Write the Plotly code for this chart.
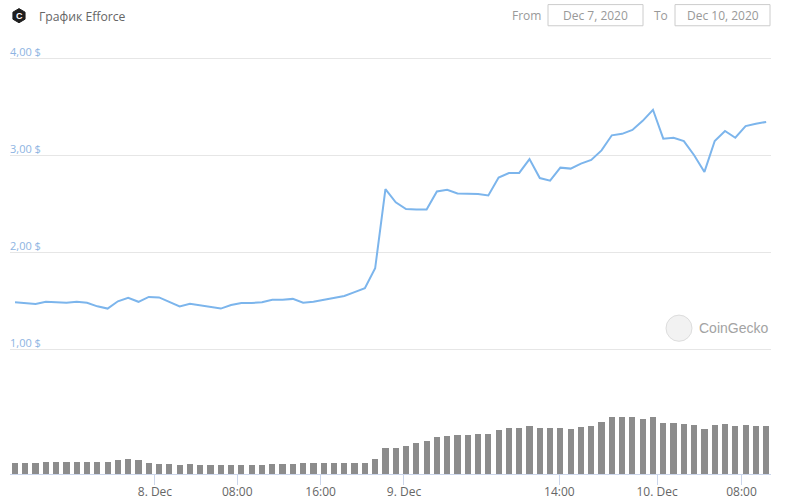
import math
import plotly.graph_objects as go

# ---- data ----
prices = [
    1.485, 1.475, 1.467, 1.49, 1.485, 1.48, 1.49, 1.48, 1.443, 1.42,
    1.495, 1.53, 1.49, 1.54, 1.535, 1.49, 1.443, 1.47, 1.454, 1.433,
    1.42, 1.457, 1.478, 1.478, 1.485, 1.51, 1.51, 1.52, 1.48, 1.49,
    1.51, 1.525, 1.55, 1.59, 1.63, 1.835, 2.65, 2.515, 2.445, 2.44,
    2.44, 2.627, 2.644, 2.606, 2.606, 2.60, 2.585, 2.77, 2.817, 2.817,
    2.96, 2.765, 2.737, 2.872, 2.862, 2.914, 2.952, 3.05, 3.205, 3.22,
    3.26, 3.354, 3.468, 3.17, 3.18, 3.146, 3.0, 2.828, 3.146, 3.25,
    3.18, 3.30, 3.325, 3.343,
]
volumes = [
    35, 35, 35, 38, 38, 38, 38, 38, 38, 38,
    42, 45, 42, 35, 32, 32, 29, 32, 29, 29,
    29, 29, 29, 29, 29, 32, 32, 32, 35, 35,
    35, 35, 35, 35, 35, 45, 78, 78, 84, 93,
    99, 111, 114, 117, 117, 120, 120, 132, 138, 138,
    144, 138, 138, 138, 135, 141, 144, 156, 171, 171,
    171, 165, 171, 153, 153, 150, 147, 135, 147, 150,
    144, 147, 144, 144,
]
x_tick_labels = ["8. Dec", "08:00", "16:00", "9. Dec", "14:00", "10. Dec", "08:00"]
x_tick_index = [13.6, 21.6, 29.7, 37.8, 52.9, 62.4, 70.6]
price_ticks = [1, 2, 3, 4]
price_tick_labels = ["1,00 $", "2,00 $", "3,00 $", "4,00 $"]
title_text = "График Efforce"
date_from = "Dec 7, 2020"
date_to = "Dec 10, 2020"

idx = list(range(len(prices)))

# vertical layout is designed in reference pixels and stretched to the figure height
SY = 510 / 499
W, H = 785, 510
L, R = 10, 14
T = round(40 * SY)
B = H - round(470 * SY)
PW, PH = W - L - R, H - T - B


def px(xp):
    return (xp - L) / PW


def py(yp):
    return (H - B - yp * SY) / PH


FONT = "Open Sans"
LINE_C = "#7cb5ec"

fig = go.Figure()
fig.add_trace(go.Bar(x=idx, y=volumes, yaxis="y2", marker=dict(color="#8c8c8c", line=dict(width=0)),
                     width=0.6, showlegend=False, hoverinfo="skip"))
fig.add_trace(go.Scatter(x=idx, y=prices, mode="lines", line=dict(color=LINE_C, width=2),
                         showlegend=False))

shapes = []
annotations = []

# logo hexagon
cx, cy, r = 19, 15, 7
pts = []
for k in range(6):
    a = math.radians(60 * k + 30)
    pts.append((px(cx + r * math.cos(a)), py(cy - r * math.sin(a))))
path = "M " + " L ".join(f"{a:.5f},{b:.5f}" for a, b in pts) + " Z"
shapes.append(dict(type="path", path=path, xref="paper", yref="paper",
                   fillcolor="#1e1e1e", line=dict(color="#1e1e1e", width=1)))
annotations.append(dict(x=px(cx), y=py(cy), xref="paper", yref="paper", text="<b>C</b>",
                        showarrow=False, font=dict(family="Arial", size=9, color="white"),
                        xanchor="center", yanchor="middle"))
annotations.append(dict(x=px(37), y=py(16), xref="paper", yref="paper", text=title_text,
                        showarrow=False, font=dict(family=FONT, size=12.2, color="#666666"),
                        xanchor="left", yanchor="middle"))

# date range boxes
annotations.append(dict(x=px(526), y=py(15), xref="paper", yref="paper", text="From",
                        showarrow=False, font=dict(family=FONT, size=12, color="#999999"),
                        xanchor="center", yanchor="middle"))
shapes.append(dict(type="rect", xref="paper", yref="paper", x0=px(548), x1=px(643), y0=py(4), y1=py(25),
                   line=dict(color="#cccccc", width=1), fillcolor="white"))
annotations.append(dict(x=px(595.5), y=py(15), xref="paper", yref="paper", text=date_from,
                        showarrow=False, font=dict(family=FONT, size=12, color="#999999"),
                        xanchor="center", yanchor="middle"))
annotations.append(dict(x=px(661), y=py(15), xref="paper", yref="paper", text="To",
                        showarrow=False, font=dict(family=FONT, size=12, color="#999999"),
                        xanchor="center", yanchor="middle"))
shapes.append(dict(type="rect", xref="paper", yref="paper", x0=px(675), x1=px(770), y0=py(4), y1=py(25),
                   line=dict(color="#cccccc", width=1), fillcolor="white"))
annotations.append(dict(x=px(722.5), y=py(15), xref="paper", yref="paper", text=date_to,
                        showarrow=False, font=dict(family=FONT, size=12, color="#999999"),
                        xanchor="center", yanchor="middle"))

# CoinGecko watermark
shapes.append(dict(type="circle", xref="paper", yref="paper", x0=px(666), x1=px(692), y0=py(312), y1=py(338),
                   line=dict(color="#dddddd", width=1), fillcolor="#f2f2f2"))
annotations.append(dict(x=px(697), y=py(325), xref="paper", yref="paper", text="CoinGecko",
                        showarrow=False, font=dict(family="Liberation Sans", size=14, color="#a3a3a3"),
                        xanchor="left", yanchor="middle"))

fig.update_layout(
    width=W, height=H, autosize=False,
    margin=dict(l=L, r=R, t=T, b=B, pad=0),
    paper_bgcolor="white", plot_bgcolor="white",
    bargap=0, shapes=shapes, annotations=annotations,
    font=dict(family=FONT),
    xaxis=dict(range=[(10 - 15) / 10.29, (771 - 15) / 10.29], anchor="y2",
               showgrid=False, zeroline=False, showline=True, linecolor="#ccd6eb", linewidth=1,
               ticks="outside", ticklen=10, tickcolor="#ccd6eb", tickwidth=1,
               tickvals=x_tick_index, ticktext=x_tick_labels, ticklabelstandoff=-3,
               tickfont=dict(family=FONT, size=12, color="#666666")),
    yaxis=dict(domain=[py(366), 1], range=[1 - 20 / 96.3, 4 + 17 / 96.3],
               tickvals=price_ticks, ticktext=price_tick_labels,
               showgrid=True, gridcolor="#e6e6e6", gridwidth=1, zeroline=False, showline=False,
               ticklabelposition="inside", ticklabelshift=-6, ticklabelstandoff=-3,
               tickfont=dict(family=FONT, size=11, color="#8db4e2")),
    yaxis2=dict(domain=[0, py(366)], range=[0, 312], showgrid=False, zeroline=False,
                showticklabels=False, showline=False),
)

fig.write_html(
    "out.html",
    config={"displayModeBar": False},
    post_script="document.body.style.margin='0';document.body.style.overflow='hidden';",
)
